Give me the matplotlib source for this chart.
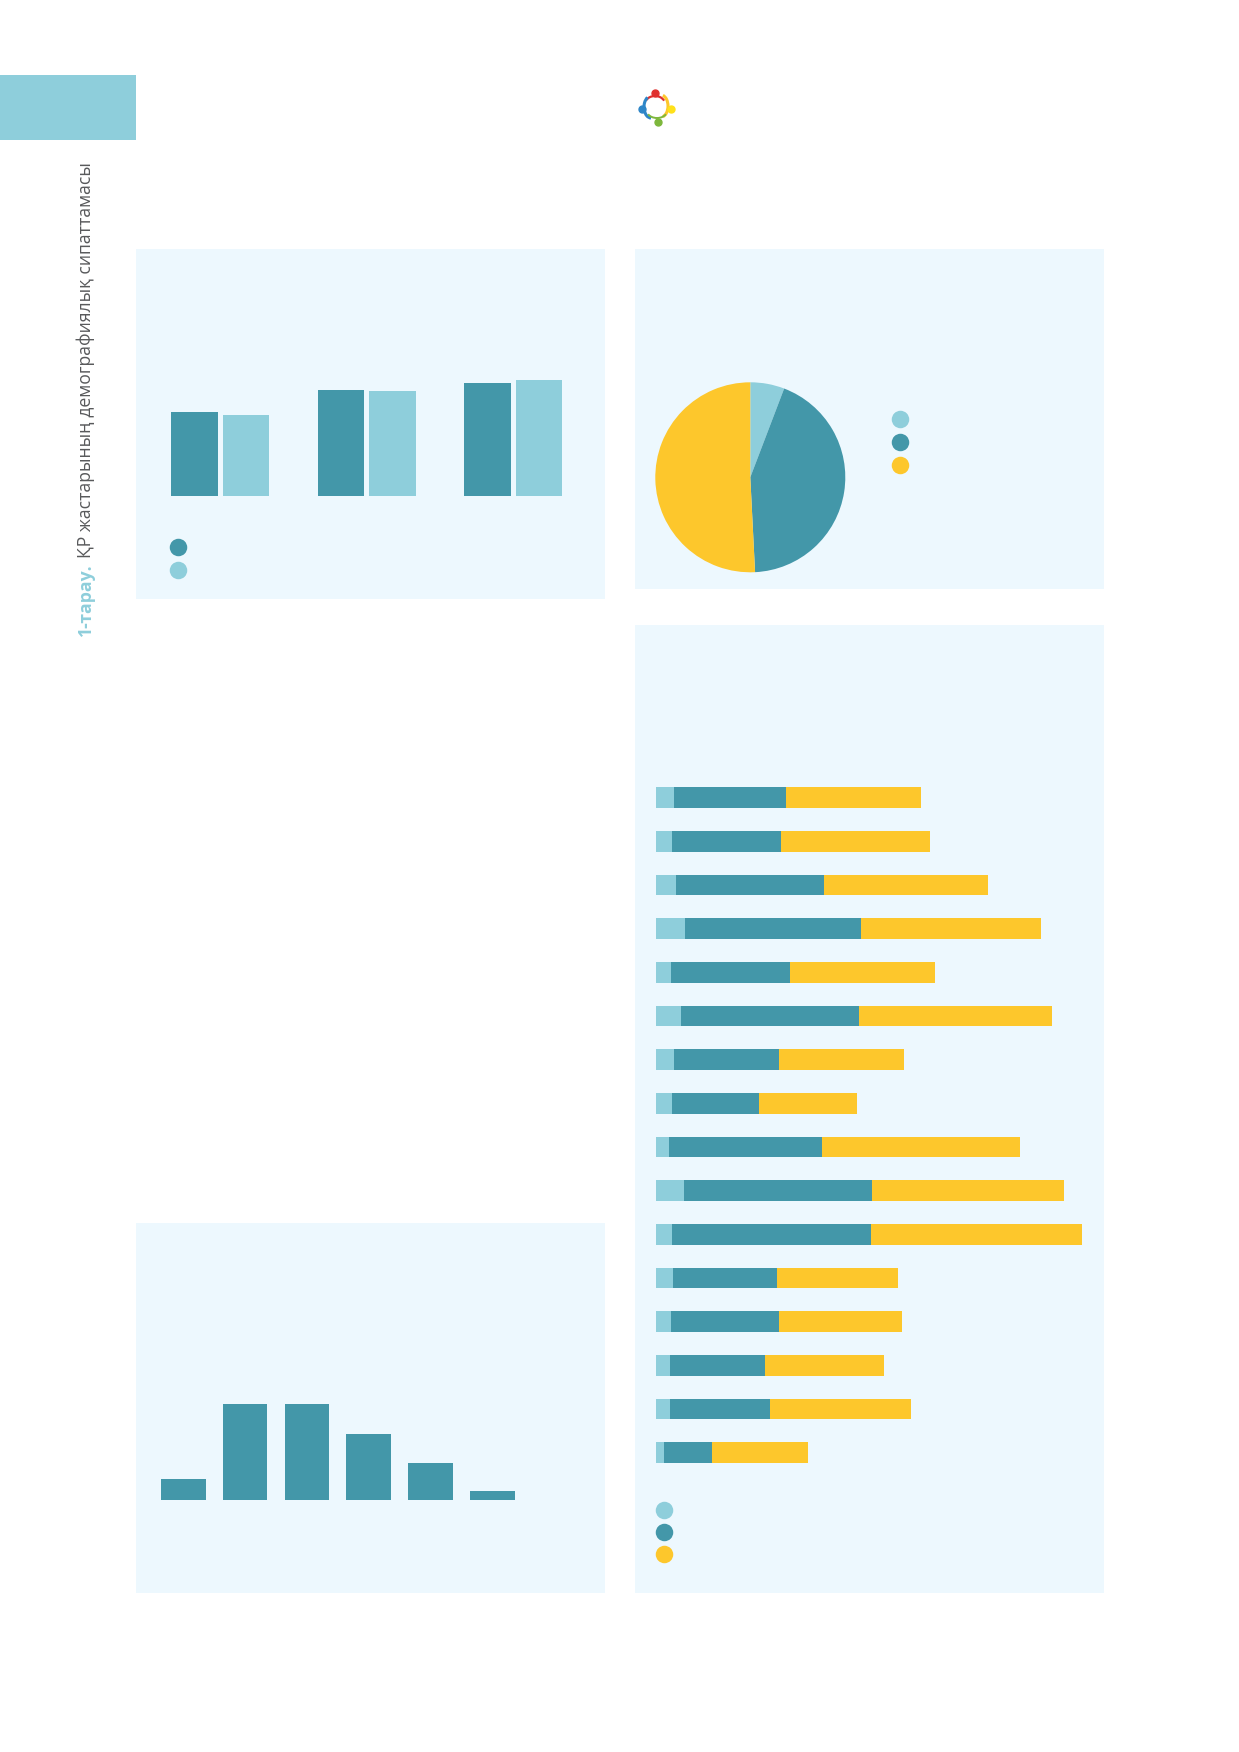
import matplotlib
matplotlib.use("Agg")
import matplotlib.pyplot as plt
from matplotlib.patches import Rectangle, Arc
from matplotlib.lines import Line2D
import numpy as np

# ---------------- data ----------------
# Chart 1: grouped bars (3 groups, 2 series)
grp_cats = ["A", "B", "C"]
grp_dark = [84.0, 106.0, 113.0]
grp_light = [80.4, 104.4, 115.7]

# Chart 2: pie shares (%)
pie_labels = ["p1", "p2", "p3"]
pie_values = [5.8, 43.4, 50.8]

# Chart 3: stacked horizontal bars (16 rows, 3 segments)
hb_rows = [f"r{i}" for i in range(1, 17)]
hb_light = [18.3, 16.3, 20.3, 29.0, 15.3, 25.0, 18.3, 16.3, 13.0, 28.0, 16.3, 17.7, 15.3, 14.3, 14.7, 8.0]
hb_dark = [112.0, 108.7, 147.7, 176.3, 119.3, 178.7, 105.0, 87.0, 153.0, 188.0, 199.3, 103.7, 108.0, 95.0, 99.7, 48.3]
hb_yellow = [135.0, 149.3, 164.0, 180.3, 144.3, 192.3, 125.0, 97.7, 198.3, 192.3, 211.0, 121.0, 122.7, 119.3, 141.0, 96.0]

# Chart 4: single-series bars
col_cats = ["c1", "c2", "c3", "c4", "c5", "c6"]
col_values = [20.7, 96.0, 95.7, 65.7, 37.0, 9.0]

side_bold = "1-тарау."
side_rest = "ҚР жастарының демографиялық сипаттамасы"

# ---------------- style ----------------
DARK = "#4397A9"
LIGHT = "#8ECEDB"
YELLOW = "#FDC72C"
PANEL = "#EDF8FE"
GREY = "#58595B"

W, H = 1239, 1752
fig = plt.figure(figsize=(W / 100, H / 100), dpi=100)
fig.patch.set_facecolor("white")


def rect(x0, y0, x1, y1):
    return [x0 / W, 1 - y1 / H, (x1 - x0) / W, (y1 - y0) / H]


def panel(x0, y0, x1, y1):
    fig.add_artist(Rectangle((x0 / W, 1 - y1 / H), (x1 - x0) / W, (y1 - y0) / H,
                             transform=fig.transFigure, facecolor=PANEL,
                             edgecolor="none", zorder=0))


def dot(x, y, color, d=17.5):
    fig.add_artist(Line2D([x / W], [1 - y / H], marker="o", markersize=d * 0.72,
                          markerfacecolor=color, markeredgecolor="none",
                          linestyle="none", transform=fig.transFigure, zorder=3))


def clean(ax):
    ax.set_facecolor("none")
    for s in ax.spines.values():
        s.set_visible(False)
    ax.set_xticks([])
    ax.set_yticks([])


# header tab
fig.add_artist(Rectangle((0, 1 - 140 / H), 136 / W, 65 / H, transform=fig.transFigure,
                         facecolor=LIGHT, edgecolor="none"))

# logo
axl = fig.add_axes(rect(630, 80, 685, 135))
axl.set_xlim(630, 685)
axl.set_ylim(135, 80)
axl.set_aspect("equal")
axl.axis("off")
for (cx, cy, c) in [(655, 92.7, "#E0312F"), (641.5, 108.7, "#2E86C8"),
                    (670.7, 108.7, "#FFE11A"), (657.7, 122.3, "#7DB73C")]:
    axl.plot([cx], [cy], marker="o", markersize=5, color=c, linestyle="none")
axl.add_patch(Arc((655, 104), 20, 16, theta1=200, theta2=340, color="#E0312F", lw=1.6))
axl.add_patch(Arc((651, 107), 14, 22, theta1=90, theta2=250, color="#2E86C8", lw=2.2))
axl.add_patch(Arc((661, 106), 14, 22, theta1=-80, theta2=80, color="#FDC72C", lw=2.2))
axl.add_patch(Arc((657, 111), 20, 14, theta1=20, theta2=160, color="#7DB73C", lw=1.4))

# side text
t1 = fig.text(86 / W, 1 - 636 / H, side_bold, rotation=90, ha="center", va="bottom",
              fontsize=12.7, fontweight="bold", color=LIGHT, family=["Open Sans", "DejaVu Sans"])
fig.canvas.draw()
bb = t1.get_window_extent(fig.canvas.get_renderer())
fig.text(86 / W, (bb.y1 + 5) / H, side_rest, rotation=90, ha="center", va="bottom",
         fontsize=12.7, color=GREY, family=["Open Sans", "DejaVu Sans"])

# ---------------- panel 1: grouped bars ----------------
panel(136, 249, 605, 599)
ax1 = fig.add_axes(rect(136, 249, 605, 599))
clean(ax1)
x = np.arange(len(grp_cats))
bw = 0.316
off = 0.176
ax1.bar(x - off, grp_dark, width=bw, color=DARK, linewidth=0)
ax1.bar(x + off, grp_light, width=bw, color=LIGHT, linewidth=0)
ax1.set_xlim(-0.574, 2.625)
ax1.set_ylim(-103.3, 246.7)
dot(177.7, 547.3, DARK)
dot(177.7, 570.0, LIGHT)

# ---------------- panel 2: pie ----------------
panel(634.7, 249, 1104, 588.7)
r = 95
ax2 = fig.add_axes(rect(750.3 - r, 477.3 - r, 750.3 + r, 477.3 + r))
ax2.pie(pie_values, colors=[LIGHT, DARK, YELLOW], startangle=90, counterclock=False,
        radius=1, wedgeprops=dict(linewidth=0))
ax2.set_xlim(-1, 1)
ax2.set_ylim(-1, 1)
ax2.set_aspect("equal")
ax2.axis("off")
dot(900, 419.3, LIGHT)
dot(900, 441.7, DARK)
dot(900, 465.0, YELLOW)

# ---------------- panel 3: stacked horizontal bars ----------------
panel(634.7, 625, 1104, 1593.3)
ax3 = fig.add_axes(rect(634.7, 625, 1104, 1593.3))
clean(ax3)
y = np.arange(len(hb_rows))
lv = np.array(hb_light)
dv = np.array(hb_dark)
yv = np.array(hb_yellow)
bh = 0.474
ax3.barh(y, lv, height=bh, color=LIGHT, linewidth=0)
ax3.barh(y, dv, left=lv, height=bh, color=DARK, linewidth=0)
ax3.barh(y, yv, left=lv + dv, height=bh, color=YELLOW, linewidth=0)
ax3.set_xlim(-21, 448.3)
ax3.set_ylim(18.22, -3.955)
dot(664, 1509.7, LIGHT)
dot(664, 1531.7, DARK)
dot(664, 1554.0, YELLOW)

# ---------------- panel 4: column bars ----------------
panel(136, 1223.3, 605, 1593.3)
ax4 = fig.add_axes(rect(136, 1223.3, 605, 1593.3))
clean(ax4)
xc = np.arange(len(col_cats))
ax4.bar(xc, col_values, width=0.72, color=DARK, linewidth=0)
ax4.set_xlim(-0.765, 6.824)
ax4.set_ylim(-93.3, 276.7)

fig.savefig("out.png", dpi=100, facecolor="white")
